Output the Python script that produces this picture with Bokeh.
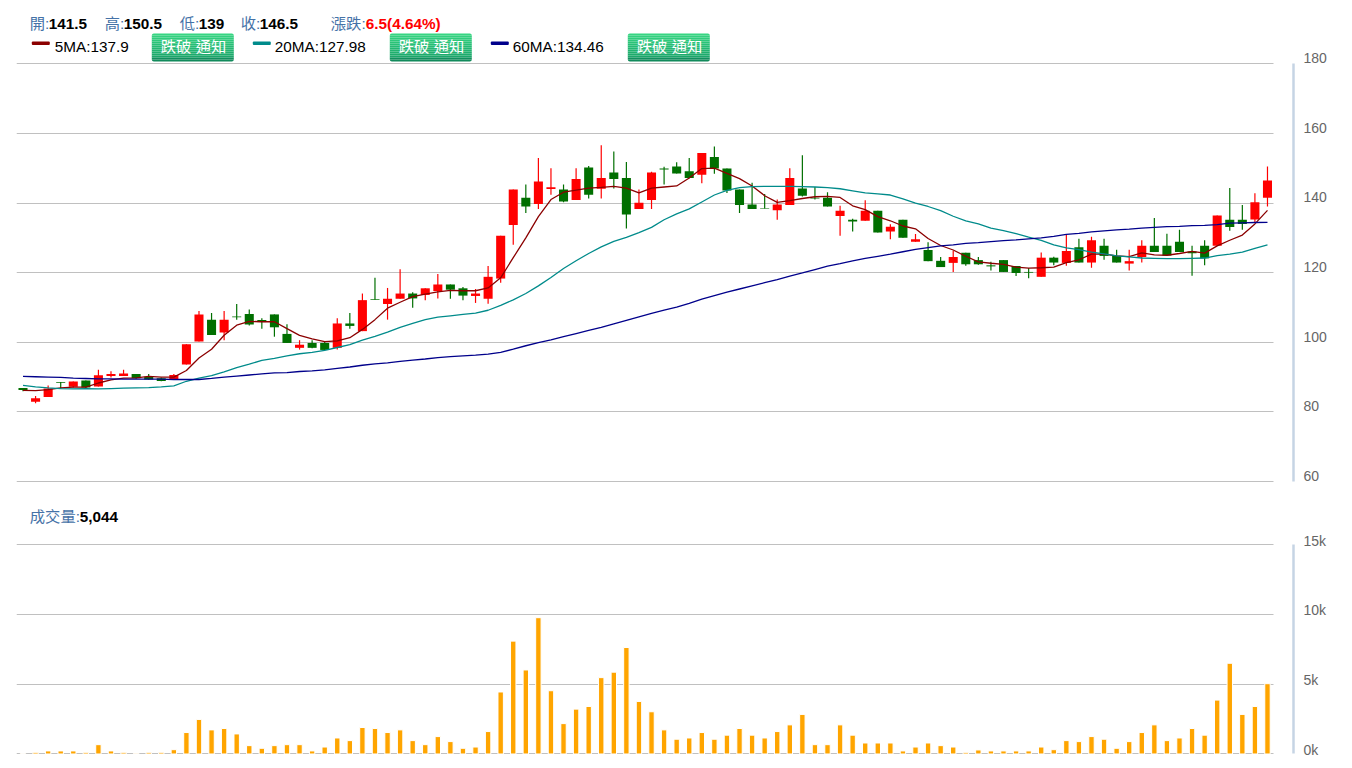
from bokeh.embed import file_html
from bokeh.layouts import column
from bokeh.models import BoxAnnotation, FixedTicker, Grid, Label, LinearAxis, Range1d
from bokeh.plotting import figure, ColumnDataSource
from bokeh.resources import INLINE

opens = [86.9, 82.9, 84.3, 88.6, 87.2, 89, 87.3, 90.3, 90.3, 90.9,
         90.1, 89.7, 89.2, 93.6, 100.2, 106.5, 102.8, 107.4, 108.1, 106.4,
         108, 102.4, 98.4, 99.8, 99.8, 98.4, 105.4, 103.2, 112.4, 111,
         112.5, 114, 113.6, 114.7, 116.6, 115.5, 113.3, 112.5, 118.3, 133.7,
         141.5, 139.7, 144, 143.9, 140.9, 150.2, 144.1, 148.8, 147.2, 138.3,
         140.9, 149.9, 150.5, 149.1, 148.1, 153.2, 149.9, 143.9, 139.6, 138.6,
         137.9, 139.4, 144.2, 141.5, 141.5, 136.3, 135.2, 134.9, 137.8, 131.8,
         135.2, 128.9, 126.5, 123.4, 122.8, 125.7, 123.6, 122.1, 123.6, 121.9,
         120.2, 118.8, 124.3, 122.8, 127.3, 122.9, 127.7, 124.8, 122.6, 124.5,
         127.7, 127.7, 128.9, 126.1, 127.7, 127.7, 135.2, 135.2, 135.3, 141.5]
closes = [86.3, 83.9, 86.7, 88.4, 88.7, 87, 90.5, 90.9, 91, 89.7,
          89.3, 88.9, 90.6, 99.4, 108, 102.1, 106.5, 107.2, 105.1, 105.8,
          104.3, 99.8, 99.3, 98.4, 97.8, 105.4, 104.7, 112.1, 112.2, 112.5,
          114, 112.6, 115.5, 116.6, 115.1, 113.4, 114, 118.8, 130.6, 143.9,
          139, 146.2, 144.5, 140.4, 146.9, 142.4, 147.2, 146.9, 136.7, 140.1,
          148.8, 149.6, 148.5, 147.2, 154.4, 149.9, 143.6, 139.4, 138.3, 138.4,
          139.6, 147.2, 142.1, 141.3, 139, 137.8, 134.7, 137.8, 131.5, 133.2,
          130, 129.6, 123.3, 121.6, 124.5, 122.4, 122.4, 121.8, 120.2, 119.9,
          120, 124.3, 122.9, 126.2, 122.9, 129.3, 124.8, 122.9, 123.3, 127.7,
          125.9, 124.9, 125.9, 125.6, 124.1, 136.4, 133.1, 134, 140.2, 146.5]
highs = [86.9, 84.6, 87.6, 88.6, 88.7, 89, 92.1, 91.7, 92.1, 90.9,
         90.9, 89.9, 90.9, 99.4, 109, 108.4, 109, 111, 109.4, 106.9,
         108, 105.2, 100.6, 100.6, 100.4, 106.9, 108.4, 114, 118.5, 115.6,
         121, 114.4, 115.5, 119.6, 116.6, 115.9, 115.3, 121.9, 130.6, 143.9,
         145.3, 152.9, 150, 145.3, 150, 150.6, 156.6, 154.8, 151.8, 143.9,
         149, 150.4, 151.7, 152.9, 154.4, 156.2, 149.9, 143.9, 145.8, 142.6,
         141, 150, 153.7, 144.6, 143.1, 139.2, 135.5, 140.8, 137.8, 133.9,
         135.2, 131.1, 128.7, 124.5, 126.3, 125.7, 124.5, 123.1, 123.6, 121.9,
         121.3, 125.8, 124.6, 130.8, 129.7, 130.3, 129.7, 126.6, 126.6, 129.3,
         135.7, 131.2, 132.3, 127.7, 129.3, 136.4, 144.3, 139.4, 142.8, 150.5]
lows = [85.9, 82.5, 84.3, 86.7, 87, 86.6, 87.3, 89.9, 90.3, 89.5,
        89.2, 88.8, 89.2, 93.6, 100.2, 102.1, 100.6, 106.5, 104.8, 103.9,
        101.6, 99.8, 97.9, 98.3, 97.8, 97.9, 103.9, 103.2, 112.2, 106.5,
        112.5, 109.9, 112.1, 112.6, 112.5, 112.1, 111.3, 111.1, 117.1, 128,
        137.1, 138.3, 142.4, 140.2, 140.9, 141.3, 141.3, 144.2, 132.7, 138.3,
        138.3, 145.3, 148.5, 147.1, 145.7, 148.4, 142.9, 137.1, 138.3, 138.4,
        135.2, 139.4, 141.9, 141, 139, 130.6, 131.8, 134.9, 131.5, 129.6,
        130, 128.9, 123.3, 121.6, 120.2, 122, 122.3, 120.6, 120.2, 119,
        118.4, 118.8, 122.1, 122, 122.9, 121.4, 123.7, 122.9, 120.6, 122.9,
        125.9, 124.9, 125.9, 119.1, 122.1, 127.7, 132, 132.3, 134.3, 139]
ma5 = [86.2, 86.1, 86.4, 86.9, 87.1, 87.1, 88.3, 89.2, 89.7, 89.8,
       90.2, 90, 90, 91.9, 95.5, 98, 102, 104.9, 106, 105.9,
       105.9, 103.9, 102, 101, 100.2, 100.4, 101.3, 103.7, 106.5, 109.8,
       111.5, 113.1, 113.8, 114.5, 114.9, 114.8, 114.8, 115.6, 118.5, 124.3,
       130, 136.1, 141, 143.1, 143.7, 144.3, 144.5, 144.8, 144.3, 142.9,
       144.3, 144.6, 144.9, 147.2, 149.9, 150, 148.5, 147, 144.9, 142.1,
       140.2, 140.7, 141.3, 141.8, 141.9, 141.6, 139.2, 138.1, 136.1, 134.9,
       133.4, 132.6, 129.8, 127.8, 126.5, 124.7, 123.1, 122.7, 122.4, 121.6,
       121.3, 121.4, 121.6, 122.9, 123.7, 125.3, 125.3, 124.8, 124.6, 125.7,
       125.1, 125, 125.5, 126.1, 125.6, 127.7, 129.3, 130.8, 134, 137.9]
ma20 = [87.6, 87.2, 86.9, 86.7, 86.6, 86.7, 86.6, 86.7, 86.8, 86.9,
        87, 87.2, 87.5, 88.8, 89.7, 90.4, 91.5, 92.7, 93.7, 94.8,
        95.4, 96.1, 96.7, 97.1, 97.7, 98.5, 99.3, 100.6, 101.7, 102.9,
        104.3, 105.4, 106.5, 107.2, 107.6, 108, 108.4, 109.2, 110.6, 112.2,
        114, 116.2, 118.6, 121.2, 123.4, 125.5, 127.4, 129, 130.1, 131.5,
        133, 135.2, 136.9, 138.3, 140.3, 142.3, 143.6, 144.4, 144.7, 144.8,
        144.8, 144.8, 144.7, 144.6, 144.4, 144.1, 143.5, 142.9, 142.6, 142.3,
        141.2, 140, 139, 137.8, 136.2, 134.9, 134, 132.8, 132.1, 131.2,
        130.2, 129.3, 128, 127.1, 126.6, 125.9, 125.4, 124.8, 124.5, 124.2,
        124.1, 124, 124, 124.1, 124.2, 124.9, 125.3, 125.9, 127, 127.98]
ma60 = [90.2, 90.1, 90, 89.9, 89.7, 89.6, 89.5, 89.5, 89.4, 89.4,
        89.4, 89.4, 89.3, 89.3, 89.3, 89.6, 90, 90.3, 90.6, 90.9,
        91.2, 91.3, 91.6, 91.8, 92.1, 92.5, 92.9, 93.4, 93.8, 94.1,
        94.5, 94.9, 95.2, 95.6, 95.9, 96.1, 96.3, 96.6, 97.1, 98,
        99, 99.9, 100.7, 101.6, 102.5, 103.4, 104.3, 105.3, 106.3, 107.3,
        108.3, 109.2, 110.1, 111.2, 112.4, 113.4, 114.4, 115.3, 116.2, 117.1,
        118, 119, 119.9, 120.9, 121.9, 122.6, 123.4, 124.1, 124.7, 125.3,
        126, 126.7, 127.2, 127.7, 128, 128.4, 128.6, 128.9, 129.2, 129.4,
        129.7, 130, 130.4, 131, 131.3, 131.7, 132, 132.3, 132.5, 132.8,
        133, 133.2, 133.3, 133.5, 133.6, 133.8, 134.2, 134.3, 134.4, 134.46]
volumes = [30, 120, 220, 220, 220, 120, 670, 220, 120, 50,
           120, 120, 310, 1540, 2480, 1730, 1830, 1440, 600, 410,
           600, 670, 670, 220, 500, 1150, 960, 1900, 1830, 1540,
           1730, 960, 670, 1250, 890, 410, 500, 1610, 4450, 8100,
           6030, 9780, 4540, 2180, 3220, 3410, 5480, 5870, 7640, 3770,
           3030, 1730, 1060, 1150, 1540, 1060, 1350, 1830, 1350, 1150,
           1610, 2090, 2840, 670, 670, 2090, 1350, 790, 790, 790,
           220, 500, 790, 600, 500, 120, 290, 220, 220, 220,
           220, 500, 310, 960, 890, 1250, 1060, 410, 890, 1540,
           2090, 960, 1150, 1830, 1350, 3870, 6510, 2840, 3410, 5044]
price_ticks = [60, 80, 100, 120, 140, 160, 180]
volume_ticks = [0, 5000, 10000, 15000]
volume_labels = {0: '0k', 5000: '5k', 10000: '10k', 15000: '15k'}
ma_names = ['5MA:137.9', '20MA:127.98', '60MA:134.46']
ma_colors = ['#8B0000', '#008B8B', '#00008B']

FONT = 'Liberation Sans, Noto Sans CJK TC'
TEXT_SIZE = '15.3px'
BLUE = '#4572A7'
BUTTON_SHADES = ['#37D582', '#33D07F', '#30CC7D', '#2DC87B', '#2AC378', '#27BF76', '#25BB74',
                 '#23B772', '#21B370', '#1FAF6E', '#1DAB6C', '#1BA76A', '#12905E', '#118A5B']

WIDTH = 1344
FRAME_LEFT, FRAME_RIGHT = 16, 1293      # page pixels
X_RANGE = (-0.517, 101.07)


def new_panel(height, y_start, y_end):
    p = figure(
        width=WIDTH,
        height=height,
        x_range=Range1d(*X_RANGE),
        y_range=Range1d(y_start, y_end),
        x_axis_location=None,
        y_axis_location=None,
        output_backend='svg',
        toolbar_location=None,
        min_border_left=FRAME_LEFT,
        min_border_right=WIDTH - FRAME_RIGHT,
        min_border_top=0,
        min_border_bottom=0,
    )
    p.outline_line_color = None
    p.grid.visible = False
    return p


def add_axes(p, ticks, shift, overrides=None):
    grid = Grid(dimension=1, ticker=FixedTicker(ticks=ticks), grid_line_color='#C0C0C0',
                grid_line_width=1, cross_bounds=(-0.55, 99.5))
    p.add_layout(grid)
    # the thick rule beside the frame, no ticks of its own
    line_axis = LinearAxis(
        ticker=FixedTicker(ticks=[]), bounds=(ticks[0], ticks[-1]),
        axis_line_color='#C6D4E4', axis_line_width=2.5,
        major_tick_out=0, major_tick_in=0, major_label_standoff=0)
    p.add_layout(line_axis, 'right')
    # labels sit a little above their gridline in the original, so they get their own range
    p.extra_y_ranges['labels'] = Range1d(p.y_range.start - shift, p.y_range.end - shift)
    label_axis = LinearAxis(
        y_range_name='labels', ticker=FixedTicker(ticks=ticks),
        axis_line_color=None, major_tick_line_color=None, minor_tick_line_color=None,
        major_tick_out=0, major_tick_in=0,
        major_label_text_font='Liberation Sans', major_label_text_font_size='14px',
        major_label_text_color='#666666', major_label_standoff=10)
    if overrides:
        label_axis.major_label_overrides = overrides
    p.add_layout(label_axis, 'right')


def put_text(p, text, sx, sy, color='black', style='normal', size=TEXT_SIZE, bottom=500):
    p.add_layout(Label(x=sx - FRAME_LEFT - 0.7, y=bottom - sy, x_units='screen', y_units='screen',
                       text=text, text_color=color, text_font=FONT, text_font_size=size,
                       text_font_style=style, text_baseline='middle'))


def put_box(p, left, right, top, bottom, color, radius=0, frame_bottom=500):
    p.add_layout(BoxAnnotation(left=left - FRAME_LEFT, right=right - FRAME_LEFT,
                               top=frame_bottom - top, bottom=frame_bottom - bottom,
                               left_units='screen', right_units='screen',
                               top_units='screen', bottom_units='screen',
                               fill_color=color, fill_alpha=1, line_color=None,
                               border_radius=radius))


def put_button(p, left):
    last = len(BUTTON_SHADES) - 1
    for i, shade in enumerate(BUTTON_SHADES):
        radius = (3, 3, 0, 0) if i == 0 else (0, 0, 3, 3) if i == last else 0
        put_box(p, left - 0.7, left + 81.3, 33 + 2*i, 35 + 2*i, shade, radius)
    put_text(p, '跌破 通知', left + 9, 46, color='white', size='15.3px')


xs = list(range(len(closes)))
rising = [c >= o for o, c in zip(opens, closes)]
source = ColumnDataSource(data={
    'x': xs,
    'open': opens,
    'high': highs,
    'low': lows,
    'close': closes,
    'top': [max(o, c) for o, c in zip(opens, closes)],
    'bottom': [min(o, c) for o, c in zip(opens, closes)],
    'color': ['#FF0000' if r else '#006F00' for r in rising],
})

# price panel: frame runs from page y 0 to 500
price = new_panel(500, 54.55, 198.17)
add_axes(price, price_ticks, 1.6)
price.segment('x', 'high', 'x', 'low', source=source, color='color', line_width=1.2)
price.vbar('x', 0.72, 'top', 'bottom', source=source, fill_color='color', line_color=None)
for values, color in zip([ma5, ma20, ma60], ma_colors):
    price.line(xs, values, color=color, line_width=1.3)

for label, value, lx, vx in [('開:', '141.5', 30, 49), ('高:', '150.5', 105, 124),
                             ('低:', '139', 180, 199), ('收:', '146.5', 241, 260)]:
    put_text(price, label, lx, 23, color=BLUE)
    put_text(price, value, vx, 23, style='bold')
put_text(price, '漲跌:', 331, 23, color=BLUE)
put_text(price, '6.5(4.64%)', 366, 23, color='#FF0000', style='bold')

for name, color, line_x, text_x, button_x in zip(ma_names, ma_colors, [32, 253, 491],
                                                 [55, 275, 513], [152, 390, 628]):
    put_box(price, line_x - 0.7, line_x + 17.3, 41, 44.5, color, 1)
    put_text(price, name, text_x, 46)
    put_button(price, button_x)

# volume panel: frame runs from page y 500 to 758
volume = new_panel(258, -323, 18190)
add_axes(volume, volume_ticks, 300, volume_labels)
volume.vbar(xs, 0.43, volumes, 0, fill_color='#FFA500', line_color='white', line_width=1)
put_text(volume, '成交量:', 30, 516, color=BLUE, bottom=758)
put_text(volume, '5,044', 80, 516, style='bold', bottom=758)

page = column(price, volume, spacing=0)
open('out.html', 'w').write(file_html(page, INLINE))
